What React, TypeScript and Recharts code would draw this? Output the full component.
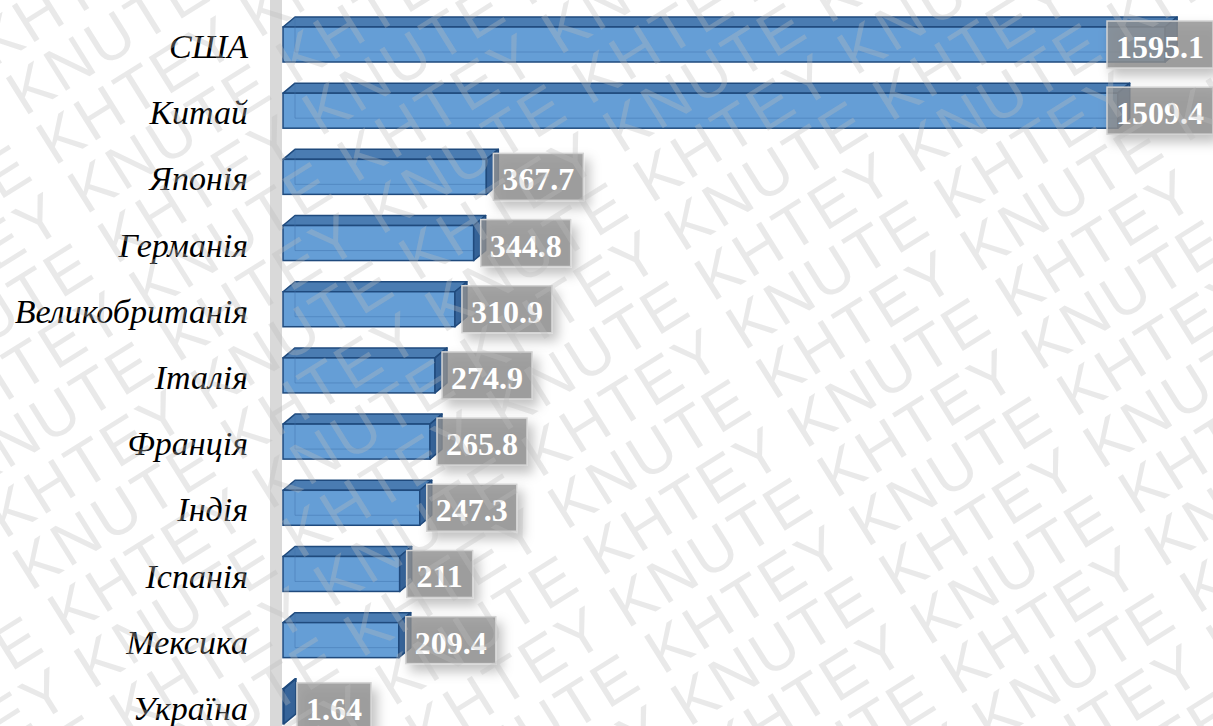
import { BarChart, Bar, XAxis, YAxis } from "recharts";

const countries = ["США", "Китай", "Японія", "Германія", "Великобританія", "Італія", "Франція", "Індія", "Іспанія", "Мексика", "Україна"];
const values = [1595.1, 1509.4, 367.7, 344.8, 310.9, 274.9, 265.8, 247.3, 211, 209.4, 1.64];
const valueLabels = ["1595.1", "1509.4", "367.7", "344.8", "310.9", "274.9", "265.8", "247.3", "211", "209.4", "1.64"];

const data = countries.map((name, i) => ({ name, value: values[i], label: valueLabels[i] }));

const W = 1213;
const H = 726;
const SERIF = '"Times New Roman", "Liberation Serif", serif';
const DX = 12;
const DY = 10;

// rough width of bold serif digits at 32px
const textWidth = (s: string) => s.split("").reduce((w, c) => w + (c === "." ? 8 : 16), 0);

const Bar3D = (props: any) => {
  const { x, y, width, height, payload } = props;
  const x0 = x;
  const x1 = x + width;
  const yT = y;
  const yB = y + height;
  const cy = y + height / 2;
  const label: string = payload.label;
  const bw = textWidth(label) + 18;
  let bx = Math.max(x1 + 7, x0 + DX + 2);
  bx = Math.min(bx, W - bw);
  const stroke = "#1f4a7d";
  return (
    <g>
      {/* top face */}
      <polygon
        points={`${x0},${yT} ${x0 + DX},${yT - DY} ${x1 + DX},${yT - DY} ${x1},${yT}`}
        fill="#4a7cb2"
        stroke={stroke}
        strokeWidth={1.5}
        strokeLinejoin="round"
      />
      {/* front face */}
      <rect x={x0} y={yT} width={Math.max(width, 0.5)} height={height} fill="#659ed6" stroke={stroke} strokeWidth={1.5} />
      {/* hidden back edges seen through */}
      <polyline
        points={`${x0 + DX},${yT - DY} ${x0 + DX},${yB - DY} ${x1 + DX},${yB - DY}`}
        fill="none"
        stroke="#3f72aa"
        strokeOpacity={0.45}
        strokeWidth={1}
      />
      {/* side face */}
      <polygon
        points={`${x1},${yT} ${x1 + DX},${yT - DY} ${x1 + DX},${yB - DY} ${x1},${yB}`}
        fill="#36649a"
        stroke={stroke}
        strokeWidth={1.5}
        strokeLinejoin="round"
      />
      {/* value box */}
      <rect
        x={bx}
        y={cy - 23.5}
        width={bw}
        height={47}
        fill="#8f8f8f"
        fillOpacity={0.8}
        stroke="#d4d4d4"
        strokeWidth={1.5}
        filter="url(#boxShadow)"
      />
      <text
        x={bx + bw / 2}
        y={cy + 13.5}
        textAnchor="middle"
        fill="#ffffff"
        fontFamily={SERIF}
        fontWeight="bold"
        fontSize={32}
      >
        {label}
      </text>
    </g>
  );
};

const CountryTick = ({ y, payload }: any) => (
  <text x={248} y={y + 14} textAnchor="end" fontFamily={SERIF} fontStyle="italic" fontSize={34} fill="#000">
    {payload.value}
  </text>
);

const WATERMARK = "KNUTE KHTEY KNUTE KHTEY KNUTE KHTEY KNUTE KHTEY KNUTE KHTEY";
const rows = Array.from({ length: 36 }, (_, i) => i);

export default function App() {
  return (
    <div style={{ position: "absolute", left: 0, top: 0, width: W, height: H, overflow: "hidden", background: "#fff" }}>
      <svg width={0} height={0} style={{ position: "absolute" }}>
        <defs>
          <filter id="boxShadow" x="-30%" y="-40%" width="170%" height="200%">
            <feDropShadow dx={5} dy={7} stdDeviation={6} floodColor="#000" floodOpacity={0.3} />
          </filter>
        </defs>
      </svg>
      <div style={{ position: "absolute", left: 270, top: 0, width: 12, height: H, background: "#d9d9d9" }} />
      <div style={{ position: "absolute", left: 0, top: 0 }}>
        <BarChart
          width={W}
          height={760}
          data={data}
          layout="vertical"
          margin={{ top: 11, right: 17.5, left: 0, bottom: 21 }}
        >
          <XAxis type="number" domain={[0, 1650]} hide />
          <YAxis
            type="category"
            dataKey="name"
            width={283}
            axisLine={false}
            tickLine={false}
            tick={<CountryTick />}
            interval={0}
          />
          <Bar dataKey="value" barSize={35} shape={<Bar3D />} isAnimationActive={false} />
        </BarChart>
      </div>
      <svg
        width={W}
        height={H}
        style={{ position: "absolute", left: 0, top: 0, pointerEvents: "none" }}
      >
        <g transform="rotate(-32)" fontFamily='"Liberation Sans", Arial, sans-serif' fontSize={62} letterSpacing={3} fill="#bdbdbd" fillOpacity={0.33}>
          {rows.map((i) => (
            <text key={i} x={-1500 + (i % 2) * 240} y={-700 + i * 58}>
              {WATERMARK}
            </text>
          ))}
        </g>
      </svg>
    </div>
  );
}
